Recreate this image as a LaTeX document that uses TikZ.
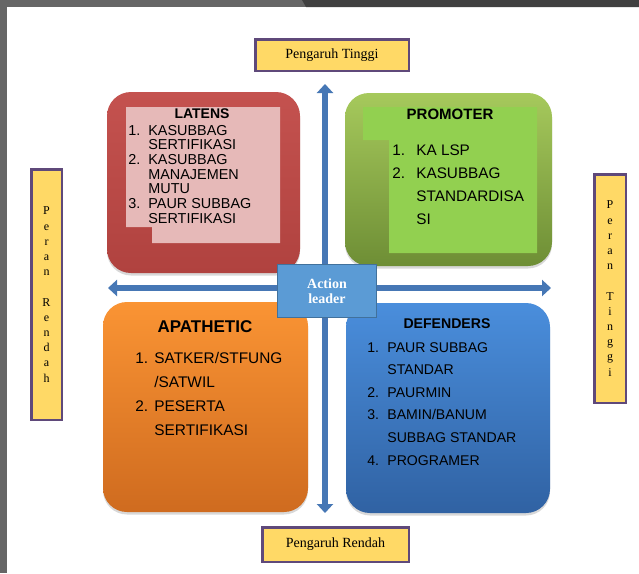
\documentclass[tikz,border=0pt]{standalone}
\usepackage{fontspec}
\usetikzlibrary{arrows.meta,positioning,shadows}
\newfontfamily\boxfont{Liberation Sans}
\newfontfamily\tagfont{Liberation Serif}
\definecolor{tagFill}{HTML}{FFD966}
\definecolor{tagLine}{HTML}{5F497A}
\definecolor{axisBlue}{HTML}{4677B5}
\definecolor{latTop}{HTML}{C4524F}
\definecolor{latBot}{HTML}{B0423F}
\definecolor{latPink}{HTML}{E6B9B8}
\definecolor{proTop}{HTML}{A6C95C}
\definecolor{proBot}{HTML}{6E8E35}
\definecolor{proInner}{HTML}{92D050}
\definecolor{apaTop}{HTML}{FA9434}
\definecolor{apaBot}{HTML}{CF6B1F}
\definecolor{defTop}{HTML}{4A8EDC}
\definecolor{defBot}{HTML}{3062A3}
\definecolor{leadFill}{HTML}{5B9BD5}
\definecolor{leadLine}{HTML}{41719C}
\definecolor{frameLight}{HTML}{666666}
\definecolor{frameDark}{HTML}{404040}
\tikzset{every picture/.style={line width=0.75pt}}

\begin{document}
\begin{tikzpicture}[x=1pt,y=-1pt,
    tagbox/.style={draw=tagLine,line width=2.5pt,fill=tagFill,inner sep=0pt,
        font=\tagfont\fontsize{14}{16}\selectfont},
    sidetag/.style={tagbox,align=center,font=\tagfont\fontsize{12}{15.2}\selectfont},
    quadrant/.style={rounded corners=24pt,inner sep=0pt,
        drop shadow={shadow xshift=0pt,shadow yshift=-2.5pt,opacity=0.3}},
    head/.style={anchor=base,inner sep=0pt,font=\boxfont\bfseries},
    items/.style={anchor=base west,inner sep=0pt}]
    \useasboundingbox (0,0) rectangle (639,573);
    \fill[white] (0,0) rectangle (639,573);

    % Window frame
    \fill[frameLight] (0,0) rectangle (7,573);
    \fill[frameLight] (0,0) rectangle (306,7);
    \fill[frameDark] (302,0) -- (639,0) -- (639,7) -- (306,7) -- cycle;

    % Axes
    \coordinate (axTop) at (325,84);
    \coordinate (axBot) at (325,513);
    \coordinate (axLeft) at (108,288);
    \coordinate (axRight) at (551,288);
    \draw[axisBlue,line width=6pt,{Triangle[width=16pt,length=9pt]}-{Triangle[width=16pt,length=9pt]}]
        (axTop) -- (axBot);
    \draw[axisBlue,line width=6pt,{Triangle[width=16pt,length=9pt]}-{Triangle[width=16pt,length=9pt]}]
        (axLeft) -- (axRight);

    % Axis labels
    \node[tagbox,minimum width=153.5pt,minimum height=31.5pt] (pengTinggi) at (332,55) {Pengaruh Tinggi};
    \node[tagbox,minimum width=146.5pt,minimum height=34.5pt] (pengRendah) at (335.5,544.5) {Pengaruh Rendah};
    \node[sidetag,minimum width=30.5pt,minimum height=250.5pt] (peranRendah) at (46.5,294.5)
        {P\\e\\r\\a\\n\\\mbox{}\\R\\e\\n\\d\\a\\h};
    \node[sidetag,minimum width=31.5pt,minimum height=228.5pt] (peranTinggi) at (610,288.5)
        {P\\e\\r\\a\\n\\\mbox{}\\T\\i\\n\\g\\g\\i};

    % Quadrant LATENS
    \node[quadrant,top color=latTop,bottom color=latBot,minimum width=193pt,minimum height=181pt]
        (latens) at (203.5,182.5) {};
    \fill[latPink] (126,107) -- (280,107) -- (280,243) -- (152,243) -- (152,227) -- (126,227) -- cycle;
    \node[head,font=\boxfont\bfseries\fontsize{14}{16}\selectfont] (latensHead) at (202,118) {LATENS};
    \node[items,font=\boxfont\fontsize{14.4}{14.7}\selectfont] (latensList) at (128,135)
        {\begin{tabular}[t]{@{}p{20pt}@{}l@{}}
        1. & KASUBBAG\\ & SERTIFIKASI\\
        2. & KASUBBAG\\ & MANAJEMEN\\ & MUTU\\
        3. & PAUR SUBBAG\\ & SERTIFIKASI
        \end{tabular}};

    % Quadrant PROMOTER
    \node[quadrant,top color=proTop,bottom color=proBot,minimum width=207pt,minimum height=173pt]
        (promoter) at (448.5,179.5) {};
    \fill[proInner] (363,107) -- (537,107) -- (537,253) -- (389,253) -- (389,140) -- (363,140) -- cycle;
    \node[head,font=\boxfont\bfseries\fontsize{15}{17}\selectfont] (promoterHead) at (450,119) {PROMOTER};
    \node[items,font=\boxfont\fontsize{15.3}{23.3}\selectfont] (promoterList) at (392,155)
        {\begin{tabular}[t]{@{}p{24pt}@{}l@{}}
        1. & KA LSP\\
        2. & KASUBBAG\\ & STANDARDISA\\ & SI
        \end{tabular}};

    % Quadrant APATHETIC
    \node[quadrant,top color=apaTop,bottom color=apaBot,minimum width=205pt,minimum height=210pt]
        (apathetic) at (205.5,407) {};
    \node[head,font=\boxfont\bfseries\fontsize{17}{19}\selectfont] (apatheticHead) at (205,332) {APATHETIC};
    \node[items,font=\boxfont\fontsize{15.4}{24}\selectfont] (apatheticList) at (135,363)
        {\begin{tabular}[t]{@{}p{19pt}@{}l@{}}
        1. & SATKER/STFUNG\\ & /SATWIL\\
        2. & PESERTA\\ & SERTIFIKASI
        \end{tabular}};

    % Quadrant DEFENDERS
    \node[quadrant,top color=defTop,bottom color=defBot,minimum width=204pt,minimum height=210pt]
        (defenders) at (448,408) {};
    \node[head,font=\boxfont\bfseries\fontsize{14.1}{16}\selectfont] (defendersHead) at (447,328) {DEFENDERS};
    \node[items,font=\boxfont\fontsize{14.1}{22.6}\selectfont] (defendersList) at (367,352)
        {\begin{tabular}[t]{@{}p{20pt}@{}l@{}}
        1. & PAUR SUBBAG\\ & STANDAR\\
        2. & PAURMIN\\
        3. & BAMIN/BANUM\\ & SUBBAG STANDAR\\
        4. & PROGRAMER
        \end{tabular}};

    % Centre box
    \node[draw=leadLine,fill=leadFill,line width=1pt,minimum width=99pt,minimum height=53pt,
        align=center,text=white,font=\tagfont\bfseries\fontsize{14}{15}\selectfont]
        (actionLeader) at (327,291) {Action\\leader};
\end{tikzpicture}
\end{document}
